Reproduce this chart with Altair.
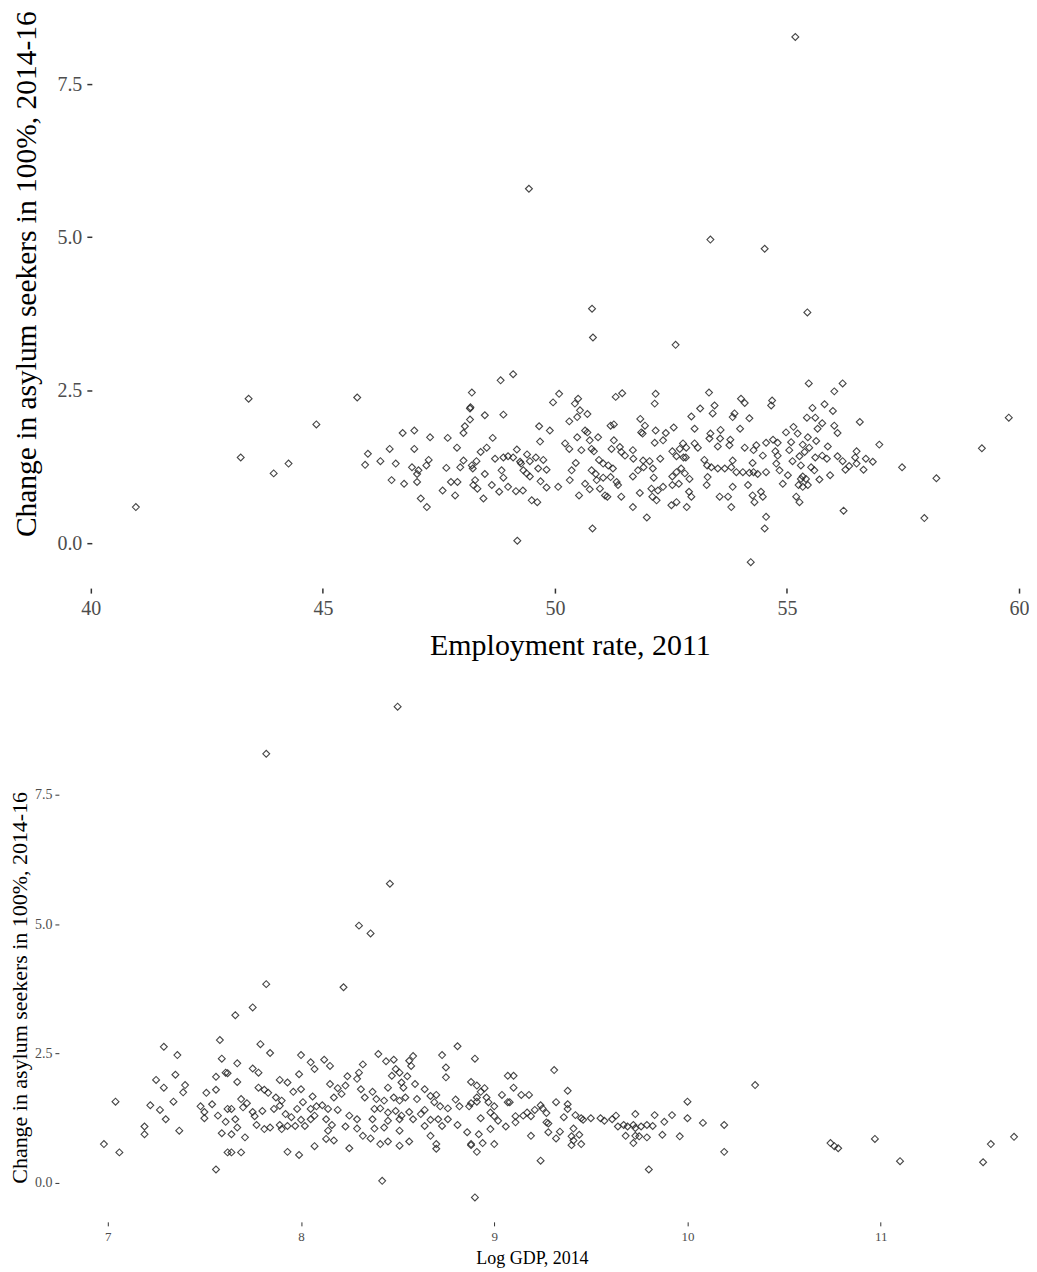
import altair as alt
import pandas as pd

# ---- Top panel: employment rate 2011 vs change in asylum seekers ----
employment_points = [
    (40.97, 0.59), (43.23, 1.40), (43.40, 2.36), (43.94, 1.14), (44.26, 1.30), (44.86, 1.94),
    (49.44, 5.79), (50.80, 3.83), (50.82, 3.36), (52.60, 3.24), (53.35, 4.96), (54.52, 4.81),
    (55.44, 3.77), (55.18, 8.27), (57.96, 0.41), (58.22, 1.06), (59.20, 1.55), (59.78, 2.05),
    (54.22, -0.31),
    (45.74, 2.38), (48.21, 2.46), (48.17, 2.20), (48.18, 2.22), (48.49, 2.09), (48.17, 2.02),
    (48.06, 1.91), (48.03, 1.80), (46.72, 1.80), (46.97, 1.84), (47.31, 1.73), (47.69, 1.72),
    (47.89, 1.56), (45.97, 1.46), (46.44, 1.54), (46.97, 1.54), (46.24, 1.34), (45.91, 1.28),
    (46.57, 1.30), (46.92, 1.24), (47.28, 1.36), (47.23, 1.27), (47.06, 1.19), (47.03, 1.13),
    (47.66, 1.23), (47.96, 1.24), (48.03, 1.35), (48.21, 1.27), (48.23, 1.22), (48.31, 1.34),
    (48.40, 1.49), (48.53, 1.56), (48.49, 1.13), (48.28, 1.03), (48.24, 0.95), (48.33, 0.89),
    (48.46, 0.73), (46.48, 1.03), (46.75, 0.97), (47.03, 1.00), (47.58, 0.86), (47.76, 1.00),
    (47.90, 1.00), (47.85, 0.78), (47.11, 0.73), (47.24, 0.59),
    (48.83, 2.66), (49.10, 2.76), (50.09, 2.44), (49.96, 2.30), (50.50, 2.36), (50.43, 2.28),
    (50.54, 2.17), (50.70, 2.11), (50.48, 2.06), (50.31, 1.99), (51.31, 2.39), (51.45, 2.45),
    (48.89, 2.10), (49.66, 1.91), (49.89, 1.84), (49.68, 1.66), (48.66, 1.72), (49.18, 1.53),
    (48.71, 1.38), (48.89, 1.40), (48.99, 1.42), (49.10, 1.40), (49.25, 1.33), (49.27, 1.30),
    (49.40, 1.45), (49.46, 1.34), (49.59, 1.40), (49.75, 1.36), (49.82, 1.20), (49.64, 1.22),
    (49.32, 1.19), (49.39, 1.14), (49.46, 1.09), (48.85, 1.19), (48.89, 1.07), (48.64, 0.95),
    (48.80, 0.84), (48.99, 0.92), (49.16, 0.85), (49.31, 0.86), (49.69, 1.01), (49.82, 0.91),
    (50.07, 0.92), (49.50, 0.70), (49.62, 0.67), (50.22, 1.63), (50.31, 1.54), (50.48, 1.73),
    (50.57, 1.52), (50.45, 1.31), (50.36, 1.19), (50.32, 1.03), (50.65, 1.84), (50.70, 1.81),
    (50.75, 1.68), (50.93, 1.73), (50.79, 1.54), (50.84, 1.50), (50.95, 1.36), (51.04, 1.30),
    (51.15, 1.27), (51.25, 1.22), (50.79, 1.19), (50.88, 1.13), (50.90, 1.03), (51.04, 1.07),
    (51.20, 1.08), (51.33, 1.00), (51.36, 0.95), (50.97, 0.89), (51.08, 0.78), (51.13, 0.76),
    (50.52, 0.78), (50.65, 0.97), (50.75, 0.88), (51.43, 0.76), (51.20, 1.92), (51.27, 1.94),
    (51.27, 1.68), (51.22, 1.54), (51.40, 1.57), (51.43, 1.49), (51.51, 1.43), (50.81, 0.24),
    (49.19, 0.04),
    (52.17, 2.44), (52.15, 2.28), (53.32, 2.46), (54.01, 2.36), (54.09, 2.29), (53.44, 2.25),
    (53.40, 2.12), (53.13, 2.20), (52.94, 2.07), (53.87, 2.12), (53.83, 2.06), (54.19, 2.04),
    (51.84, 2.03), (51.94, 1.92), (51.86, 1.81), (51.89, 1.79), (52.17, 1.84), (52.39, 1.80),
    (52.56, 1.89), (53.01, 1.87), (52.33, 1.68), (52.15, 1.64), (53.35, 1.79), (53.33, 1.71),
    (53.57, 1.85), (53.56, 1.71), (53.78, 1.69), (53.76, 1.60), (53.51, 1.58), (53.99, 1.87),
    (54.09, 1.56), (54.34, 1.60), (54.55, 1.64), (54.28, 1.52), (54.48, 1.43), (52.53, 1.50),
    (52.69, 1.54), (52.76, 1.63), (52.83, 1.56), (53.01, 1.63), (53.08, 1.56), (51.68, 1.52),
    (51.69, 1.38), (51.90, 1.35), (52.04, 1.34), (52.27, 1.38), (52.62, 1.42), (52.77, 1.40),
    (52.82, 1.40), (53.22, 1.36), (53.28, 1.27), (53.37, 1.24), (53.51, 1.22), (53.66, 1.22),
    (53.83, 1.35), (53.80, 1.24), (53.91, 1.16), (54.05, 1.16), (54.19, 1.15), (54.28, 1.16),
    (54.37, 1.13), (54.55, 1.16), (54.26, 1.31), (51.79, 1.19), (51.68, 1.09), (51.91, 1.24),
    (52.11, 1.22), (52.13, 1.07), (52.53, 1.09), (52.62, 1.16), (52.72, 1.22), (52.80, 1.14),
    (52.90, 1.05), (52.67, 0.97), (52.53, 0.95), (52.33, 0.92), (52.22, 0.86), (52.08, 0.89),
    (52.10, 0.76), (52.19, 0.70), (51.83, 0.82), (51.68, 0.59), (51.98, 0.42), (52.51, 0.62),
    (52.62, 0.67), (52.89, 0.84), (52.94, 0.76), (52.84, 0.59), (53.29, 1.08), (53.27, 0.95),
    (53.55, 0.76), (53.73, 0.76), (53.80, 0.59), (53.83, 0.92), (54.16, 0.95), (54.26, 0.78),
    (54.30, 0.67), (54.44, 0.84), (54.48, 0.76), (54.55, 0.43), (54.52, 0.24),
    (55.47, 2.61), (56.20, 2.61), (56.02, 2.48), (54.68, 2.33), (54.66, 2.25), (55.55, 2.21),
    (55.81, 2.27), (55.99, 2.16), (55.43, 2.05), (55.61, 2.05), (55.76, 1.96), (55.66, 1.87),
    (56.02, 1.92), (56.09, 1.80), (56.57, 1.98), (56.99, 1.61), (57.48, 1.24), (54.98, 1.81),
    (55.14, 1.90), (55.23, 1.79), (54.70, 1.69), (54.80, 1.64), (55.09, 1.65), (55.05, 1.52),
    (54.75, 1.50), (54.80, 1.43), (55.34, 1.61), (55.45, 1.73), (55.63, 1.67), (55.48, 1.56),
    (55.38, 1.49), (55.88, 1.58), (55.76, 1.43), (55.86, 1.38), (55.61, 1.40), (55.27, 1.42),
    (55.12, 1.34), (54.77, 1.30), (54.84, 1.19), (55.30, 1.27), (55.52, 1.24), (55.59, 1.19),
    (56.09, 1.42), (56.20, 1.34), (56.34, 1.26), (56.26, 1.20), (56.50, 1.50), (56.47, 1.40),
    (56.50, 1.30), (56.65, 1.20), (56.70, 1.38), (56.85, 1.33), (55.02, 1.11), (54.91, 0.97),
    (55.34, 1.09), (55.41, 1.05), (55.70, 1.04), (55.93, 1.11), (55.25, 0.95), (55.34, 0.92),
    (55.45, 0.95), (55.30, 1.05), (55.20, 0.76), (55.27, 0.67), (56.22, 0.53),
]

# ---- Bottom panel: log GDP 2014 vs change in asylum seekers ----
gdp_points = [
    (8.50, 9.20), (7.82, 8.29), (8.46, 5.78), (8.30, 4.97), (8.36, 4.82), (8.22, 3.78),
    (7.82, 3.84), (7.75, 3.39), (7.66, 3.24), (10.74, 0.77), (10.76, 0.71), (10.78, 0.67),
    (10.97, 0.85), (11.10, 0.42), (11.53, 0.40), (11.57, 0.75), (11.69, 0.89),
    (7.58, 2.76), (7.29, 2.63), (7.36, 2.47), (7.59, 2.40), (7.61, 2.13), (7.62, 2.12),
    (7.56, 2.05), (7.35, 2.09), (7.25, 1.99), (7.29, 1.84), (7.40, 1.89), (7.39, 1.75),
    (7.51, 1.74), (7.56, 1.80), (7.34, 1.57), (7.04, 1.57), (7.22, 1.50), (7.27, 1.41),
    (7.30, 1.23), (7.48, 1.48), (7.50, 1.37), (7.54, 1.52), (7.50, 1.25), (7.57, 1.30),
    (7.62, 1.43), (7.61, 1.18), (7.19, 1.09), (7.19, 0.94), (7.37, 1.01), (7.59, 0.96),
    (6.98, 0.75), (7.06, 0.59), (7.62, 0.59), (7.56, 0.26),
    (7.79, 2.68), (7.84, 2.51), (7.67, 2.31), (7.75, 2.21), (7.78, 2.13), (7.67, 1.95),
    (8.00, 2.47), (8.05, 2.33), (8.07, 2.20), (8.12, 2.38), (8.15, 2.26), (7.99, 2.10),
    (7.89, 1.99), (7.93, 1.94), (7.78, 1.84), (7.81, 1.80), (7.83, 1.74), (7.96, 1.76),
    (8.00, 1.81), (8.06, 1.67), (7.87, 1.65), (7.90, 1.59), (7.69, 1.62), (7.72, 1.54),
    (7.64, 1.43), (7.70, 1.46), (7.75, 1.37), (7.76, 1.29), (7.80, 1.39), (7.86, 1.43),
    (7.89, 1.49), (7.95, 1.27), (7.92, 1.33), (7.98, 1.43), (8.01, 1.56), (8.05, 1.43),
    (8.08, 1.48), (8.11, 1.50), (8.07, 1.30), (8.05, 1.23), (8.00, 1.22), (8.02, 1.10),
    (7.97, 1.10), (7.93, 1.10), (7.90, 1.04), (7.89, 1.12), (7.84, 1.07), (7.81, 1.04),
    (7.77, 1.12), (7.66, 1.23), (7.67, 1.07), (7.64, 0.94), (7.71, 0.88), (7.64, 0.59),
    (7.69, 0.59), (8.15, 1.91), (8.19, 1.83), (8.17, 1.65), (8.21, 1.72), (8.23, 1.88),
    (8.24, 2.06), (8.30, 2.13), (8.29, 2.01), (8.32, 2.29), (8.31, 1.81), (8.33, 1.65),
    (8.14, 1.43), (8.19, 1.41), (8.13, 1.23), (8.16, 1.12), (8.14, 1.01), (8.25, 1.30),
    (8.29, 1.23), (8.23, 1.09), (8.29, 1.05), (8.32, 0.91), (8.13, 0.85), (8.17, 0.82),
    (8.07, 0.71), (7.99, 0.54), (7.93, 0.60), (8.25, 0.67),
    (8.40, 2.49), (8.44, 2.35), (8.48, 2.38), (8.56, 2.36), (8.58, 2.45), (8.57, 2.26),
    (8.49, 2.20), (8.51, 2.13), (8.47, 2.07), (8.55, 2.06), (8.52, 1.94), (8.59, 1.91),
    (8.73, 2.47), (8.81, 2.64), (8.90, 2.40), (8.75, 2.23), (8.75, 2.04), (8.45, 1.84),
    (8.53, 1.84), (8.64, 1.81), (8.37, 1.76), (8.39, 1.62), (8.43, 1.59), (8.48, 1.65),
    (8.51, 1.59), (8.54, 1.65), (8.60, 1.62), (8.67, 1.68), (8.70, 1.70), (8.69, 1.56),
    (8.38, 1.43), (8.41, 1.44), (8.45, 1.36), (8.49, 1.39), (8.51, 1.23), (8.52, 1.30),
    (8.56, 1.37), (8.62, 1.33), (8.64, 1.41), (8.72, 1.48), (8.76, 1.44), (8.80, 1.61),
    (8.82, 1.48), (8.87, 1.48), (8.88, 1.54), (8.88, 1.95), (8.91, 1.88), (8.93, 1.76),
    (8.95, 1.83), (8.91, 1.65), (8.96, 1.65), (8.91, 1.57), (8.97, 1.56), (9.04, 1.70),
    (9.07, 2.07), (9.07, 1.56), (9.00, 1.48), (8.98, 1.36), (9.00, 1.29), (9.02, 1.20),
    (9.06, 1.09), (8.37, 1.23), (8.38, 1.05), (8.43, 1.07), (8.45, 1.20), (8.51, 1.01),
    (8.36, 0.86), (8.41, 0.75), (8.45, 0.80), (8.51, 0.72), (8.56, 0.80), (8.58, 1.23),
    (8.64, 1.10), (8.67, 1.22), (8.71, 1.23), (8.73, 1.10), (8.76, 1.23), (8.67, 0.91),
    (8.70, 0.75), (8.70, 0.66), (8.81, 1.12), (8.86, 0.98), (8.88, 0.75), (8.88, 0.73),
    (8.92, 0.94), (8.94, 0.77), (8.91, 0.60), (8.98, 1.04), (9.00, 0.75), (8.93, 1.25),
    (8.42, 0.04), (8.90, -0.28),
    (9.10, 2.07), (9.10, 1.84), (9.31, 2.18), (9.14, 1.70), (9.18, 1.70), (9.38, 1.78),
    (9.08, 1.56), (9.32, 1.56), (9.38, 1.52), (9.38, 1.43), (9.24, 1.50), (9.25, 1.44),
    (9.27, 1.35), (9.21, 1.41), (9.17, 1.36), (9.15, 1.30), (9.19, 1.29), (9.11, 1.29),
    (9.11, 1.17), (9.36, 1.27), (9.27, 1.17), (9.28, 1.15), (9.42, 1.31), (9.45, 1.25),
    (9.46, 1.22), (9.50, 1.25), (9.55, 1.25), (9.57, 1.20), (9.61, 1.23), (9.63, 1.30),
    (9.73, 1.33), (9.64, 1.09), (9.67, 1.12), (9.69, 1.09), (9.72, 1.12), (9.73, 1.06),
    (9.76, 1.09), (9.79, 1.12), (9.68, 0.91), (9.73, 0.91), (9.75, 0.90), (9.79, 0.88),
    (9.72, 0.77), (9.28, 0.98), (9.34, 0.99), (9.32, 0.86), (9.19, 0.91), (9.41, 1.05),
    (9.40, 0.90), (9.44, 0.93), (9.41, 0.82), (9.40, 0.73), (9.45, 0.75), (9.24, 0.43),
    (9.80, 0.26),
    (9.83, 1.31), (9.82, 1.10), (9.88, 1.18), (9.92, 1.31), (10.00, 1.57), (10.00, 1.25),
    (10.08, 1.16), (10.19, 1.12), (9.87, 0.93), (9.96, 0.90), (10.19, 0.60), (10.35, 1.89),
]

y_ticks = [0, 2.5, 5, 7.5]
emp_ticks = [40, 45, 50, 55, 60]
gdp_ticks = [7, 8, 9, 10, 11]
y_title = "Change in asylum seekers in 100%, 2014-16"

top_df = pd.DataFrame(employment_points, columns=["employment", "change"])
bot_df = pd.DataFrame(gdp_points, columns=["log_gdp", "change"])

FONT = "Liberation Serif"
point_style = dict(shape="diamond", filled=False, stroke="#262626",
                   strokeWidth=1.1, size=48, opacity=0.85)

top = alt.Chart(top_df).mark_point(**point_style).encode(
    x=alt.X("employment:Q",
            scale=alt.Scale(domain=[39.312, 60.151], nice=False, zero=False),
            axis=alt.Axis(values=emp_ticks, title="Employment rate, 2011",
                          labelFontSize=20, titleFontSize=30, tickSize=5, tickWidth=1.5,
                          labelPadding=5, titlePadding=13, titleX=512, labelFlush=False)),
    y=alt.Y("change:Q",
            scale=alt.Scale(domain=[-0.734, 8.723], nice=False, zero=False),
            axis=alt.Axis(values=y_ticks, format=".1f", title=y_title, offset=-33,
                          labelFontSize=20, titleFontSize=29.5, tickSize=5, tickWidth=1.5,
                          labelPadding=5, titlePadding=15, titleY=265)),
).properties(width=969, height=580)

bottom = alt.Chart(bot_df).mark_point(**point_style).encode(
    x=alt.X("log_gdp:Q",
            scale=alt.Scale(domain=[6.747, 11.752], nice=False, zero=False),
            axis=alt.Axis(values=gdp_ticks, title="Log GDP, 2014",
                          labelFontSize=13, titleFontSize=18, tickSize=4, tickWidth=1,
                          labelPadding=5, titlePadding=6, titleX=474, labelFlush=False)),
    y=alt.Y("change:Q",
            scale=alt.Scale(domain=[-0.752, 9.678], nice=False, zero=False),
            axis=alt.Axis(values=y_ticks, format=".1f", title=y_title,
                          labelFontSize=14, titleFontSize=22, tickSize=4, tickWidth=1,
                          labelPadding=3, titlePadding=3, titleY=306)),
).properties(width=969, height=541)

chart = alt.vconcat(top, bottom, spacing=21).properties(
    padding=0, background="white"
).configure_view(stroke=None).configure_axis(
    grid=False, domain=False, labelFont=FONT, titleFont=FONT,
    labelColor="#4d4d4d", titleColor="black", tickColor="#333333",
    titleFontWeight="normal",
)

chart.save("out.html", embed_options={"renderer": "svg", "actions": False})
